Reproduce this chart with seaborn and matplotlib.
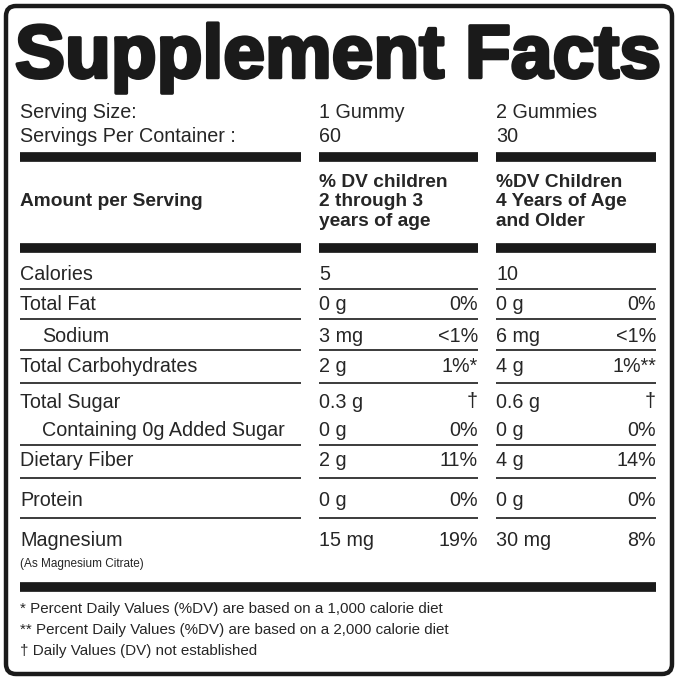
import matplotlib.pyplot as plt
import seaborn as sns
from matplotlib.patches import FancyBboxPatch

sns.set_theme(style="white")
plt.rcParams['font.family'] = ['Liberation Sans', 'DejaVu Sans']

title = "Supplement Facts"
serving_labels = ["Serving Size:", "Servings Per Container :"]
serving_col1 = ["1 Gummy", "60"]
serving_col2 = ["2 Gummies", "30"]
header_left = "Amount per Serving"
header_col1 = "% DV children\n2 through 3\nyears of age"
header_col2 = "%DV Children\n4 Years of Age\nand Older"

nutrients = ["Calories", "Total Fat", "Sodium", "Total Carbohydrates", "Total Sugar",
             "Containing 0g Added Sugar", "Dietary Fiber", "Protein", "Magnesium"]
indented = [False, False, True, False, False, True, False, False, False]
amount1 = ["5", "0 g", "3 mg", "2 g", "0.3 g", "0 g", "2 g", "0 g", "15 mg"]
dv1 = ["", "0%", "<1%", "1%*", "†", "0%", "11%", "0%", "19%"]
amount2 = ["10", "0 g", "6 mg", "4 g", "0.6 g", "0 g", "4 g", "0 g", "30 mg"]
dv2 = ["", "0%", "<1%", "1%**", "†", "0%", "14%", "0%", "8%"]
row_y = [275, 305, 336, 366, 402, 430, 461, 500, 541]
line_after = [289, 319, 350, 383, None, 445, 478, 518, None]
footnotes = ["* Percent Daily Values (%DV) are based on a 1,000 calorie diet",
             "** Percent Daily Values (%DV) are based on a 2,000 calorie diet",
             "† Daily Values (DV) not established"]

fig = plt.figure(figsize=(6.79, 6.80), dpi=100)
ax = fig.add_axes([0, 0, 1, 1])
ax.set_xlim(0, 679)
ax.set_ylim(680, 0)
ax.axis("off")

ax.add_patch(FancyBboxPatch((6, 6), 666, 668, boxstyle="round,pad=0,rounding_size=10",
                            fill=False, lw=3.2, ec="#1a1a1a"))

t = ax.text(338, 58, title, fontsize=54, fontweight="heavy", ha="center", va="center",
            color="#1a1a1a")
import matplotlib.patheffects as pe
t.set_path_effects([pe.withStroke(linewidth=2.5, foreground="#1a1a1a")])

fs = 14.2
col_l = [(20, 301), (319, 478), (496, 656)]
for i, y in enumerate([113, 136]):
    ax.text(20, y, serving_labels[i], fontsize=fs, va="center")
    ax.text(319, y, serving_col1[i], fontsize=fs, va="center")
    ax.text(496, y, serving_col2[i], fontsize=fs, va="center")

for y in [157, 248]:
    for a, b in col_l:
        ax.hlines(y, a, b, color="#1a1a1a", lw=7)

ax.text(20, 202, header_left, fontsize=13.8, fontweight="bold", va="center")
ax.text(319, 202, header_col1, fontsize=13.8, fontweight="bold", va="center", linespacing=1.2)
ax.text(496, 202, header_col2, fontsize=13.8, fontweight="bold", va="center", linespacing=1.2)

for i, name in enumerate(nutrients):
    y = row_y[i]
    ax.text(42 if indented[i] else 20, y, name, fontsize=fs, va="center")
    ax.text(319, y, amount1[i], fontsize=fs, va="center")
    ax.text(478, y, dv1[i], fontsize=fs, va="center", ha="right")
    ax.text(496, y, amount2[i], fontsize=fs, va="center")
    ax.text(656, y, dv2[i], fontsize=fs, va="center", ha="right")
    if line_after[i] is not None:
        for a, b in col_l:
            ax.hlines(line_after[i], a, b, color="#1a1a1a", lw=1.2)

ax.text(20, 564, "(As Magnesium Citrate)", fontsize=8.5, va="center")
ax.hlines(587, 20, 656, color="#1a1a1a", lw=7)

for i, f in enumerate(footnotes):
    ax.text(20, 609 + i * 21, f, fontsize=10.9, va="center")

fig.savefig("out.png", dpi=100)
